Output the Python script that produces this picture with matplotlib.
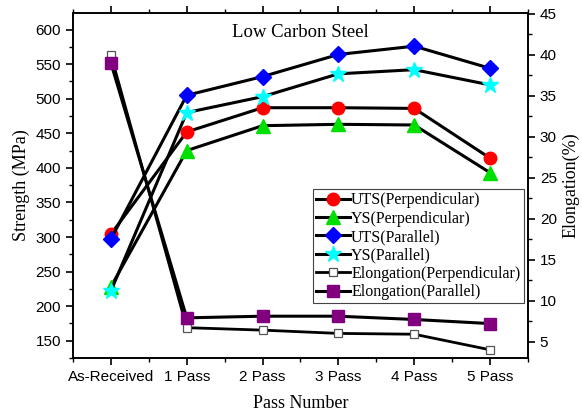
import matplotlib
matplotlib.use("Agg")
import matplotlib.pyplot as plt
from matplotlib.ticker import MultipleLocator

categories = ["As-Received", "1 Pass", "2 Pass", "3 Pass", "4 Pass", "5 Pass"]
uts_perp = [304, 452, 487, 487, 486, 414]
ys_perp = [228, 425, 461, 463, 462, 393]
uts_par = [297, 505, 532, 564, 576, 544]
ys_par = [222, 480, 503, 536, 542, 520]
elong_perp = [40.0, 6.7, 6.4, 6.0, 5.9, 4.0]
elong_par = [39.0, 7.9, 8.1, 8.1, 7.7, 7.2]

serif = "Liberation Serif"
sans = "Liberation Sans"

fig = plt.figure(figsize=(5.82, 4.19), dpi=100)
ax = fig.add_axes([0.1254, 0.1456, 0.7818, 0.8234])
ax2 = ax.twinx()

x = list(range(len(categories)))
lw = 2.2

h1, = ax.plot(x, uts_perp, color="black", lw=lw, marker="o", ms=9,
              mfc="#ff0000", mec="#ff0000", label="UTS(Perpendicular)")
h2, = ax.plot(x, ys_perp, color="black", lw=lw, marker="^", ms=10,
              mfc="#00e000", mec="#00e000", label="YS(Perpendicular)")
h3, = ax.plot(x, uts_par, color="black", lw=lw, marker="D", ms=8,
              mfc="#0000ff", mec="#0000ff", label="UTS(Parallel)")
h4, = ax.plot(x, ys_par, color="black", lw=lw, marker="*", ms=12,
              mfc="#00ffff", mec="#00ffff", label="YS(Parallel)")
h5, = ax2.plot(x, elong_perp, color="black", lw=2.0, marker="s", ms=5.5,
               mfc="white", mec="#555555", mew=0.9, label="Elongation(Perpendicular)")
h6, = ax2.plot(x, elong_par, color="black", lw=lw, marker="s", ms=8.5,
               mfc="#800080", mec="#800080", label="Elongation(Parallel)")

ax.set_xlim(-0.5, 5.5)
ax.set_ylim(125, 624)
ax2.set_ylim(3, 45.1)

ax.set_xticks(x)
ax.set_xticklabels(categories, fontfamily=sans, fontsize=11)
ax.xaxis.set_minor_locator(MultipleLocator(0.5))
ax.yaxis.set_major_locator(MultipleLocator(50))
ax.yaxis.set_minor_locator(MultipleLocator(25))
ax2.yaxis.set_major_locator(MultipleLocator(5))
ax2.yaxis.set_minor_locator(MultipleLocator(2.5))

ax.xaxis.set_ticks_position("both")
ax.tick_params(axis="both", which="major", direction="out", length=5, width=1.2)
ax.tick_params(axis="both", which="minor", direction="out", length=3, width=1.0)
ax.tick_params(axis="x", which="both", top=True, labeltop=False)
ax2.tick_params(axis="y", which="major", direction="out", length=5, width=1.2)
ax2.tick_params(axis="y", which="minor", direction="out", length=3, width=1.0)
for lab in ax.get_yticklabels() + ax2.get_yticklabels():
    lab.set_fontfamily(sans)
    lab.set_fontsize(11)

for a in (ax, ax2):
    for s in a.spines.values():
        s.set_linewidth(1.2)

ax.set_xlabel("Pass Number", fontfamily=serif, fontsize=13, labelpad=8)
ax.set_ylabel("Strength (MPa)", fontfamily=serif, fontsize=13, labelpad=4)
ax2.set_ylabel("Elongation(%)", fontfamily=serif, fontsize=13, labelpad=4)

ax.text(0.5, 0.967, "Low Carbon Steel", transform=ax.transAxes, ha="center",
        va="top", fontfamily=serif, fontsize=13.5)

leg = ax2.legend(handles=[h1, h2, h3, h4, h5, h6], loc="upper left",
                 bbox_to_anchor=(0.527, 0.49), fancybox=False, framealpha=1,
                 edgecolor="#444444", prop={"family": serif, "size": 11.5},
                 handlelength=2.1, handletextpad=0.1, borderpad=0.2,
                 labelspacing=0.15, borderaxespad=0)
leg.get_frame().set_linewidth(0.8)

fig.savefig("out.png", dpi=100)
